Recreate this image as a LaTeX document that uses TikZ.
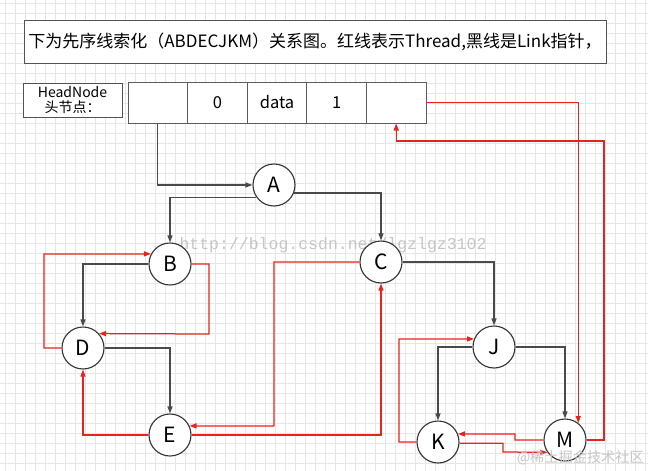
\documentclass[tikz,border=0pt]{standalone}
\usepackage{fontspec}
\setmainfont{Noto Sans CJK SC}
\newfontfamily\wmfont{Liberation Mono}
\usetikzlibrary{arrows.meta}
\definecolor{redc}{HTML}{E8221C}
\definecolor{linkc}{HTML}{4A4A4A}
\definecolor{gridc}{HTML}{E6E6E6}
\definecolor{edgec}{HTML}{333333}
\tikzset{
  circ/.style={circle,draw=edgec,line width=1.1pt,fill=white,minimum size=42pt,inner sep=0pt,font=\fontsize{21}{24}\selectfont},
  cell/.style={rectangle,draw=edgec!80,line width=1pt,fill=white,minimum width=59.6pt,minimum height=41pt,inner sep=0pt,font=\fontsize{16.5}{19}\selectfont},
  blk/.style={draw=linkc,line width=1.25pt,-{Triangle[length=7pt,width=5pt]}},
  rd/.style={draw=redc,line width=1.25pt,-{Triangle[length=7pt,width=5pt]}},
  wm/.style={text=gray!45,inner sep=0pt}
}
\begin{document}
\begin{tikzpicture}[x=1pt,y=-1pt]
\useasboundingbox (0,0) rectangle (648,471);
\fill[white] (0,0) rectangle (648,471);
\foreach \i in {0,10,...,640} \draw[gridc,line width=0.5pt] (\i+5,0) -- (\i+5,471);
\foreach \j in {0,10,...,470} \draw[gridc,line width=0.5pt] (0,\j+3) -- (648,\j+3);
% title
\node[draw=edgec!85,line width=1pt,fill=white,minimum width=582pt,minimum height=43pt,inner sep=0pt,font=\fontsize{17}{20}\selectfont] (title) at (315,41.5) {下为先序线索化（ABDECJKM）关系图。红线表示Thread,黑线是Link指针，};
% head label
\node[draw=edgec!85,line width=1pt,fill=white,minimum width=99pt,minimum height=34pt,inner sep=0pt,align=center,font=\fontsize{14}{15.5}\selectfont] (hl) at (72.5,100) {HeadNode\\头节点：};
% record
\node[cell] (h1) at (157.8,102.5) {};
\node[cell] (h2) at (217.4,102.5) {0};
\node[cell] (h3) at (277,102.5) {data};
\node[cell] (h4) at (336.6,102.5) {1};
\node[cell] (h5) at (396.2,102.5) {};
% watermark
\node[wm,font=\wmfont\fontsize{16.5}{18}\selectfont] (wm1) at (333,245) {http://blog.csdn.net/lgzlgz3102};
% tree nodes
\node[circ] (A) at (274,185) {A};
\node[circ] (B) at (170,264) {B};
\node[circ] (C) at (381,262) {C};
\node[circ] (D) at (83,348) {D};
\node[circ] (E) at (170,435) {E};
\node[circ] (J) at (494,347) {J};
\node[circ] (K) at (438,442) {K};
\node[circ] (M) at (565,440) {M};
% link (black) lines
\draw[blk] (h1.south) |- (A.west);
\draw[blk] (A.215) -| (B.north);
\draw[blk] (A.338) -| (C.north);
\draw[blk] (B.west) -| (D.north);
\draw[blk] (D.east) -| (E.north);
\draw[blk] (C.east) -| (J.north);
\draw[blk] (J.west) -| (K.north);
\draw[blk] (J.east) -| (M.north);
% thread (red) lines
\draw[rd] (B.east) -| (209,334) -- (D.42);
\draw[rd] (D.west) -| (44,254) -- (B.152);
\draw[rd] (E.west) -| (D.south);
\draw[rd] (C.west) -| (274,426) -- (E.25);
\draw[rd] (E.east) -| (C.south);
\draw[rd] (h5.east) -| (M.52);
\draw[rd] (M.east) -| (604,141) -| (h5.south);
\draw[rd] (K.west) -| (399,339) -- (J.158);
\draw[rd] (M.west) -| (515,434) -- (K.22);
\draw[rd] (K.-3) -| (503,452) -- (M.215);
% bottom watermark
\node[wm,font=\fontsize{14.2}{16}\selectfont,anchor=east] (wm2) at (644,458) {@稀土掘金技术社区};
\end{tikzpicture}
\end{document}
